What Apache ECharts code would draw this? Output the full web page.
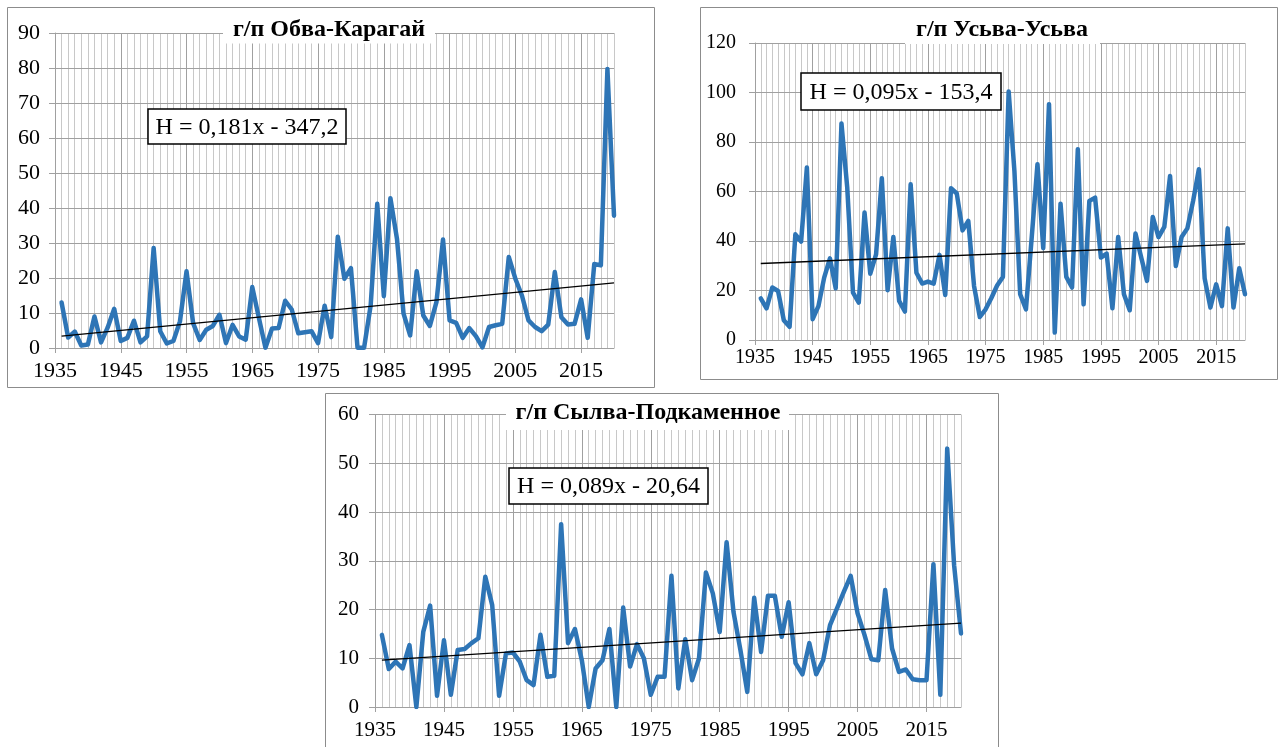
<!DOCTYPE html>
<html><head><meta charset="utf-8">
<script src="https://cdn.jsdelivr.net/npm/echarts@6/dist/echarts.min.js"></script>
<style>html,body{margin:0;padding:0;background:#fff}#c{width:1279px;height:747px}</style>
</head><body><div id="c"></div>
<script>
const years = [1936,1937,1938,1939,1940,1941,1942,1943,1944,1945,1946,1947,1948,1949,1950,1951,1952,1953,1954,1955,1956,1957,1958,1959,1960,1961,1962,1963,1964,1965,1966,1967,1968,1969,1970,1971,1972,1973,1974,1975,1976,1977,1978,1979,1980,1981,1982,1983,1984,1985,1986,1987,1988,1989,1990,1991,1992,1993,1994,1995,1996,1997,1998,1999,2000,2001,2002,2003,2004,2005,2006,2007,2008,2009,2010,2011,2012,2013,2014,2015,2016,2017,2018,2019,2020];
const obvaKaragai = [13.0,3.0,4.7,0.7,1.0,9.0,1.6,5.8,11.2,2.0,2.9,7.8,1.6,3.3,28.6,4.8,1.3,2.0,7.6,21.9,7.1,2.3,5.2,6.3,9.5,1.4,6.6,3.3,2.4,17.4,8.6,0.1,5.6,5.7,13.5,11.0,4.2,4.5,4.8,1.4,12.1,3.1,31.8,19.8,22.8,0.1,0.1,12.2,41.2,14.8,42.8,31.2,9.8,3.6,21.9,9.3,6.3,13.1,31.0,7.9,7.2,2.9,5.7,3.4,0.2,6.0,6.5,6.9,26.0,19.8,15.0,7.9,6.0,4.8,6.7,21.7,8.8,6.7,6.9,13.9,2.9,24.0,23.6,79.7,37.8];
const usvaUsva = [16.8,12.8,21.2,19.8,8.0,5.3,42.7,39.8,69.7,8.4,13.7,25.2,33.0,20.9,87.5,61.6,19.1,15.1,51.5,26.8,34.6,65.4,20.1,41.6,15.8,11.5,62.9,27.2,22.8,23.6,22.8,34.4,18.2,61.3,59.2,44.3,48.1,21.8,9.3,12.4,17.0,22.0,25.5,100.4,68.3,18.5,12.4,41.4,71.0,37.1,95.3,3.0,55.1,25.5,21.2,77.1,14.4,56.2,57.5,33.3,34.9,12.8,41.6,18.5,12.0,43.0,33.3,23.9,49.7,41.6,45.7,66.3,29.9,41.6,45.1,56.2,69.0,24.9,13.1,22.5,13.7,45.1,13.1,29.0,18.5];
const sylvaPodkamennoe = [14.8,7.8,9.3,7.9,12.7,0.0,15.4,20.8,2.3,13.7,2.5,11.7,11.9,13.1,14.1,26.7,20.9,2.3,11.0,11.2,9.3,5.5,4.5,14.8,6.2,6.4,37.5,13.1,16.0,9.6,0.0,7.9,9.6,16.0,0.0,20.4,8.3,12.9,10.0,2.5,6.2,6.2,26.9,3.8,13.9,5.5,10.0,27.6,23.3,15.4,33.8,19.5,11.7,3.1,22.4,11.3,22.8,22.8,14.4,21.5,9.0,6.7,13.1,6.7,9.6,16.8,20.2,23.6,26.9,19.2,14.8,9.8,9.6,24.0,12.0,7.2,7.7,5.7,5.5,5.5,29.3,2.5,53.0,29.1,15.1];
const trendYears = [1936, 2020];
const trendObva = [3.4, 18.6];
const trendUsva = [30.9, 38.8];
const trendSylva = [9.6, 17.2];
const titles = ['г/п Обва-Карагай', 'г/п Усьва-Усьва', 'г/п Сылва-Подкаменное'];
const equations = ['Н = 0,181x - 347,2', 'Н = 0,095x - 153,4', 'Н = 0,089x - 20,64'];
const yMaxes = [90, 120, 60];
const ySteps = [10, 20, 10];
const xMin = 1935, xMax = 2020, xStep = 10;

const seriesVals = [obvaKaragai, usvaUsva, sylvaPodkamennoe];
const trendVals = [trendObva, trendUsva, trendSylva];

// layout (pixels)
const grids = [
  {left: 55, top: 33, width: 559, height: 315},
  {left: 755, top: 43, width: 490, height: 297},
  {left: 375, top: 414.5, width: 586, height: 292.5}
];
const fontSizes = [22, 20, 21];
const yLabelMargins = [15, 19, 16];
const xLabelMargins = [12, 8, 13];
const frames = [
  {x: 7.5, y: 7.5, width: 647, height: 380},
  {x: 700.5, y: 7.5, width: 577, height: 372},
  {x: 325.5, y: 393.5, width: 673, height: 360}
];
const titleBoxes = [
  {x: 223, y: 14, width: 212, height: 29.5, cx: 329, cy: 30},
  {x: 905, y: 14, width: 195, height: 30, cx: 1002, cy: 30},
  {x: 506, y: 397, width: 283, height: 33, cx: 648, cy: 413}
];
const eqBoxes = [
  {x: 148, y: 109, width: 198, height: 35},
  {x: 801, y: 73, width: 200, height: 37},
  {x: 509, y: 468, width: 199, height: 36}
];

const MAJOR = '#a0a0a0', MINOR = '#c8c8c8', BLUE = '#2e75b6', FONT = '"Liberation Serif", "Times New Roman", serif';

const option = {
  animation: false,
  grid: grids.map(g => Object.assign({containLabel: false}, g)),
  xAxis: [],
  yAxis: [],
  series: [],
  graphic: []
};

for (let k = 0; k < 3; k++) {
  // minor (yearly) vertical gridlines
  option.xAxis.push({
    type: 'value', gridIndex: k, min: xMin, max: xMax, interval: 1, position: 'top', z: 0,
    axisLine: {show: false}, axisTick: {show: false}, axisLabel: {show: false},
    splitLine: {show: true, lineStyle: {color: MINOR, width: 1}}
  });
  // major axis
  option.xAxis.push({
    type: 'value', gridIndex: k, min: xMin, max: xMax, interval: xStep, position: 'bottom', z: 1,
    axisLine: {show: true, lineStyle: {color: MAJOR, width: 1}},
    axisTick: {show: true, inside: false, length: 5, lineStyle: {color: MAJOR}},
    axisLabel: {show: true, margin: xLabelMargins[k], showMaxLabel: false, color: '#000',
      fontFamily: FONT, fontSize: fontSizes[k], formatter: v => String(v)},
    splitLine: {show: true, showMaxLine: false, lineStyle: {color: MAJOR, width: 1}}
  });
  option.yAxis.push({
    type: 'value', gridIndex: k, min: 0, max: yMaxes[k], interval: ySteps[k], z: 1,
    axisLine: {show: true, lineStyle: {color: MAJOR, width: 1}},
    axisTick: {show: true, inside: false, length: 6, lineStyle: {color: MAJOR}},
    axisLabel: {show: true, margin: yLabelMargins[k], color: '#000', fontFamily: FONT, fontSize: fontSizes[k]},
    splitLine: {show: true, lineStyle: {color: MAJOR, width: 1}}
  });
  option.series.push({
    type: 'line', xAxisIndex: 2 * k + 1, yAxisIndex: k, showSymbol: false, symbol: 'none',
    data: years.map((y, i) => [y, seriesVals[k][i]]),
    lineStyle: {color: BLUE, width: 4.5, join: 'round', cap: 'round'},
    z: 3
  });
  option.series.push({
    type: 'line', xAxisIndex: 2 * k + 1, yAxisIndex: k, showSymbol: false, symbol: 'none',
    data: trendYears.map((y, i) => [y, trendVals[k][i]]),
    lineStyle: {color: '#000', width: 1.3},
    z: 4
  });
  option.graphic.push({
    type: 'rect', z: 1, silent: true, shape: frames[k],
    style: {fill: 'none', stroke: '#8c8c8c', lineWidth: 1}
  });
  const tb = titleBoxes[k];
  option.graphic.push({
    type: 'rect', z: 5, silent: true, shape: {x: tb.x, y: tb.y, width: tb.width, height: tb.height},
    style: {fill: '#fff', stroke: 'none'}
  });
  option.graphic.push({
    type: 'text', z: 6, silent: true,
    style: {x: tb.cx, y: tb.cy, text: titles[k], fill: '#000', align: 'center', verticalAlign: 'middle',
      font: 'bold 24px ' + FONT}
  });
  const eb = eqBoxes[k];
  option.graphic.push({
    type: 'rect', z: 5, silent: true, shape: eb,
    style: {fill: '#fff', stroke: '#000', lineWidth: 1.5}
  });
  option.graphic.push({
    type: 'text', z: 6, silent: true,
    style: {x: eb.x + eb.width / 2, y: eb.y + eb.height / 2 + 1, text: equations[k], fill: '#000',
      align: 'center', verticalAlign: 'middle', font: '24px ' + FONT}
  });
}

const chart = echarts.init(document.getElementById('c'), null, {renderer: 'canvas'});
chart.setOption(option);
</script>
</body></html>
